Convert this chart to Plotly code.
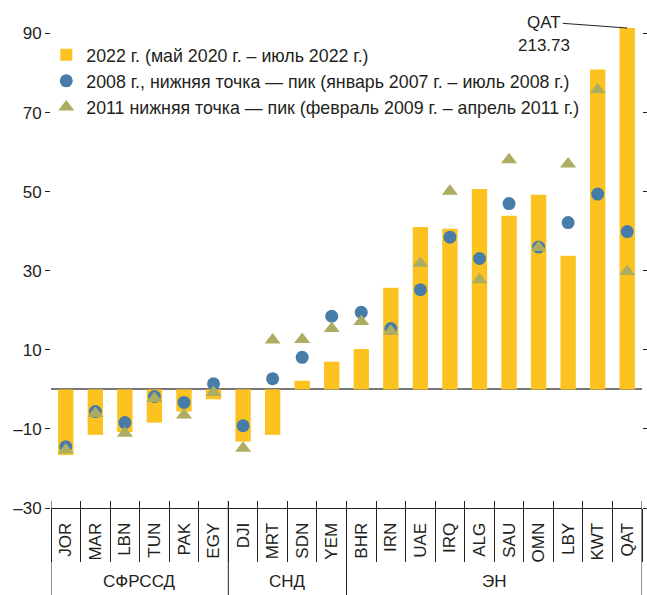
import plotly.graph_objects as go

# ---- data ----
countries = ["JOR", "MAR", "LBN", "TUN", "PAK", "EGY",
             "DJI", "MRT", "SDN", "YEM",
             "BHR", "IRN", "UAE", "IRQ", "ALG", "SAU", "OMN", "LBY", "KWT", "QAT"]
groups = ["СФРССД", "СНД", "ЭН"]
group_sizes = [6, 4, 10]

val_2022 = [-16.6, -11.5, -10.8, -8.4, -5.6, -2.5,
            -13.2, -11.5, 2.2, 7.0,
            10.2, 25.7, 41.1, 40.6, 50.7, 43.9, 49.2, 33.8, 80.9, 213.73]
val_2008 = [-14.5, -5.6, -8.4, -1.8, -3.3, 1.4,
            -9.2, 2.7, 8.1, 18.5,
            19.5, 15.4, 25.2, 38.5, 33.1, 47.0, 36.0, 42.2, 49.4, 39.9]
val_2011 = [-15.3, -6.1, -11.1, -2.3, -6.5, -0.8,
            -14.9, 12.5, 12.6, 15.4,
            17.2, 14.7, 31.9, 50.1, 27.7, 58.1, 35.9, 57.0, 75.8, 29.8]

name_2022 = "2022 г. (май 2020 г. – июль 2022 г.)"
name_2008 = "2008 г., нижняя точка — пик (январь 2007 г. – июль 2008 г.)"
name_2011 = "2011 нижняя точка — пик (февраль 2009 г. – апрель 2011 г.)"

y_tickvals = [-30, -10, 10, 30, 50, 70, 90]
y_ticktext = ["–30", "–10", "10", "30", "50", "70", "90"]
y_range = [-30, 91.4]

qat_label = "QAT"
qat_value = 213.73

FONT = "Liberation Sans, Arial, sans-serif"
YELLOW = "#FCC320"
BLUE = "#487CA8"
OLIVE = "#ADAD62"
INK = "#231F20"

fig = go.Figure()
fig.add_trace(go.Bar(x=countries, y=val_2022, name=name_2022,
                     marker=dict(color=YELLOW, line=dict(width=0))))
fig.add_trace(go.Scatter(x=countries, y=val_2008, name=name_2008, mode="markers",
                         marker=dict(symbol="circle", size=13, color=BLUE)))
fig.add_trace(go.Scatter(x=countries, y=val_2011, name=name_2011, mode="markers",
                         marker=dict(symbol="triangle-up", size=14, color=OLIVE)))
# helper trace for the secondary x-axis (category separators)
fig.add_trace(go.Scatter(x=countries, y=val_2008, xaxis="x2", mode="markers",
                         marker=dict(opacity=0), showlegend=False, hoverinfo="skip"))

# group dividers and labels
shapes = []
annotations = []
start = 0
bounds = [-0.5]
for g, n in zip(groups, group_sizes):
    end = start + n
    bounds.append(end - 0.5)
    annotations.append(dict(x=(start + end - 1) / 2, y=-0.154, xref="x", yref="paper",
                            text=g, showarrow=False, yanchor="middle",
                            font=dict(family=FONT, size=17, color=INK)))
    start = end
for b in bounds:
    shapes.append(dict(type="line", xref="x", yref="paper", x0=b, x1=b,
                       y0=7 / 480, y1=-87 / 480, line=dict(color=INK, width=1)))

# QAT callout
qi = countries.index(qat_label)
annotations.append(dict(x=qi, y=y_range[1], xref="x", yref="y", text=qat_label,
                        showarrow=True, arrowhead=0, arrowwidth=1, arrowcolor=INK,
                        ax=-83, ay=-6, standoff=0,
                        font=dict(family=FONT, size=17, color=INK)))
annotations.append(dict(x=qi, y=y_range[1], xref="x", yref="y", text=f"{qat_value:.2f}",
                        showarrow=False, xshift=-83, yshift=-17,
                        font=dict(family=FONT, size=17, color=INK)))

fig.update_layout(
    width=647, height=595,
    margin=dict(l=51, r=5, t=28, b=87, autoexpand=False),
    plot_bgcolor="white", paper_bgcolor="white",
    font=dict(family=FONT, size=17, color=INK),
    bargap=0.48,
    showlegend=True,
    legend=dict(x=-0.008, y=0.982, xanchor="left", yanchor="top",
                bgcolor="rgba(0,0,0,0)", font=dict(family=FONT, size=17.8, color=INK),
                traceorder="normal"),
    xaxis=dict(type="category", categoryorder="array", categoryarray=countries,
               range=[-0.5, len(countries) - 0.5], automargin=False,
               showline=True, linecolor=INK, linewidth=1,
               ticks="inside", ticklen=7, tickcolor=INK, tickwidth=1,
               tickson="boundaries", tickangle=-90, ticklabelstandoff=7,
               tickfont=dict(family=FONT, size=17, color=INK),
               showgrid=False, zeroline=False),
    xaxis2=dict(type="category", categoryorder="array", categoryarray=countries,
                range=[-0.5, len(countries) - 0.5], overlaying="x", side="bottom",
                ticks="outside", ticklen=53, tickcolor=INK, tickwidth=1,
                tickson="boundaries", showticklabels=False, automargin=False,
                showgrid=False, zeroline=False, showline=False),
    yaxis=dict(range=y_range, tickvals=y_tickvals, ticktext=y_ticktext,
               ticks="outside", ticklen=5, tickcolor=INK, tickwidth=1,
               mirror="ticks", showline=False, showgrid=False, automargin=False,
               zeroline=True, zerolinecolor="#777777", zerolinewidth=1.5,
               tickfont=dict(family=FONT, size=17, color=INK)),
    shapes=shapes,
    annotations=annotations,
)

fig.write_html("out.html", config={"displayModeBar": False},
               post_script="document.body.style.margin='0';")
